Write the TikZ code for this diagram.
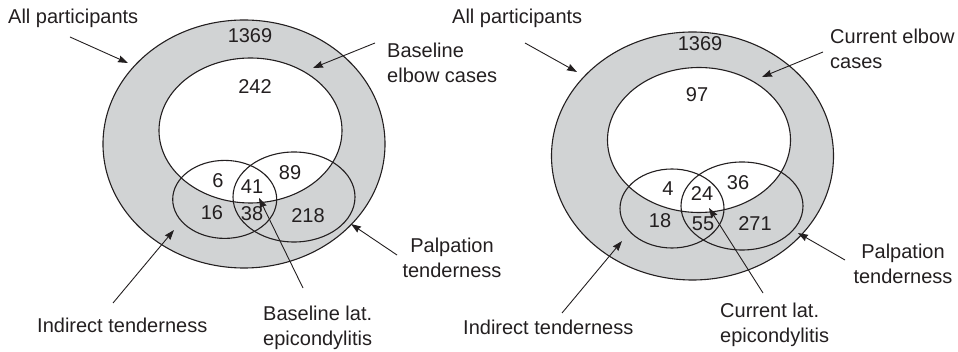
\documentclass[tikz,border=0pt]{standalone}
\usepackage{fontspec}
\setmainfont{Liberation Sans}
\usetikzlibrary{arrows.meta}
\definecolor{ringgray}{RGB}{209,211,212}
\definecolor{ink}{RGB}{35,31,32}
\tikzset{
  lbl/.style={font=\fontsize{20}{25}\selectfont, inner sep=0pt, text=ink},
  num/.style={font=\fontsize{20}{24}\selectfont, inner sep=0pt, text=ink},
  setline/.style={draw=ink, line width=1.1pt},
  ptr/.style={draw=ink, line width=0.9pt, -{Stealth[length=10pt,width=7pt,inset=1pt]}}
}
\begin{document}
\begin{tikzpicture}[x=1pt,y=-1pt]
\useasboundingbox (0,0) rectangle (958,352);
% ---------------- left diagram ----------------
\path[setline, fill=ringgray] (244,144) ellipse [x radius=141pt, y radius=124pt];
\path[setline, fill=white] (250.5,130.5) ellipse [x radius=91.5pt, y radius=72.5pt];
\path[setline] (224.7,199.4) ellipse [x radius=52pt, y radius=39pt];
\path[setline] (294,197) ellipse [x radius=61pt, y radius=45pt];
\node[num] (l1369) at (250,36) {1369};
\node[num] (l242) at (255,87) {242};
\node[num] (l6) at (218,181) {6};
\node[num] (l41) at (252,187) {41};
\node[num] (l89) at (290,173) {89};
\node[num] (l16) at (212,213) {16};
\node[num] (l38) at (252,214) {38};
\node[num] (l218) at (308,216) {218};
\node[lbl, anchor=base west] (lall) at (8,24) {All participants};
\node[lbl, anchor=north west, align=left] (lelb) at (387,42.6) {Baseline\\elbow cases};
\node[lbl, anchor=north, align=center] (lpal) at (452,237.6) {Palpation\\tenderness};
\node[lbl, anchor=base west] (lind) at (37,333) {Indirect tenderness};
\node[lbl, anchor=north west, align=left] (llat) at (263,305.6) {Baseline lat.\\epicondylitis};
\coordinate (lallT) at (70,37);   \coordinate (lallH) at (128,63);
\coordinate (lelbT) at (375,43);  \coordinate (lelbH) at (313,68);
\coordinate (lpalT) at (397,255); \coordinate (lpalH) at (351,224);
\coordinate (lindT) at (113,303); \coordinate (lindH) at (174,230);
\coordinate (llatT) at (303,288); \coordinate (llatH) at (259,198);
\draw[ptr] (lallT) -- (lallH);
\draw[ptr] (lelbT) -- (lelbH);
\draw[ptr] (lpalT) -- (lpalH);
\draw[ptr] (lindT) -- (lindH);
\draw[ptr] (llatT) -- (llatH);
% ---------------- right diagram ----------------
\path[setline, fill=ringgray] (692.5,156) ellipse [x radius=141pt, y radius=124pt];
\path[setline, fill=white] (699,140) ellipse [x radius=91.5pt, y radius=72.5pt];
\path[setline] (672,208.5) ellipse [x radius=52pt, y radius=39.5pt];
\path[setline] (742,206) ellipse [x radius=61pt, y radius=44pt];
\node[num] (r1369) at (700,44) {1369};
\node[num] (r97) at (697,95) {97};
\node[num] (r4) at (668,189) {4};
\node[num] (r24) at (702,194) {24};
\node[num] (r36) at (738,183) {36};
\node[num] (r18) at (660,221) {18};
\node[num] (r55) at (703,224) {55};
\node[num] (r271) at (755,224) {271};
\node[lbl, anchor=base west] (rall) at (452,24) {All participants};
\node[lbl, anchor=north west, align=left] (relb) at (830,28.6) {Current elbow\\cases};
\node[lbl, anchor=north, align=center] (rpal) at (903,243.6) {Palpation\\tenderness};
\node[lbl, anchor=base west] (rind) at (463,335) {Indirect tenderness};
\node[lbl, anchor=north west, align=left] (rlat) at (720,302.6) {Current lat.\\epicondylitis};
\coordinate (rallT) at (525,43);  \coordinate (rallH) at (577,72);
\coordinate (relbT) at (823,52);  \coordinate (relbH) at (762,77);
\coordinate (rpalT) at (845,260); \coordinate (rpalH) at (798,233);
\coordinate (rindT) at (562,313); \coordinate (rindH) at (622,241);
\coordinate (rlatT) at (763,293); \coordinate (rlatH) at (709,208);
\draw[ptr] (rallT) -- (rallH);
\draw[ptr] (relbT) -- (relbH);
\draw[ptr] (rpalT) -- (rpalH);
\draw[ptr] (rindT) -- (rindH);
\draw[ptr] (rlatT) -- (rlatH);
\end{tikzpicture}
\end{document}
